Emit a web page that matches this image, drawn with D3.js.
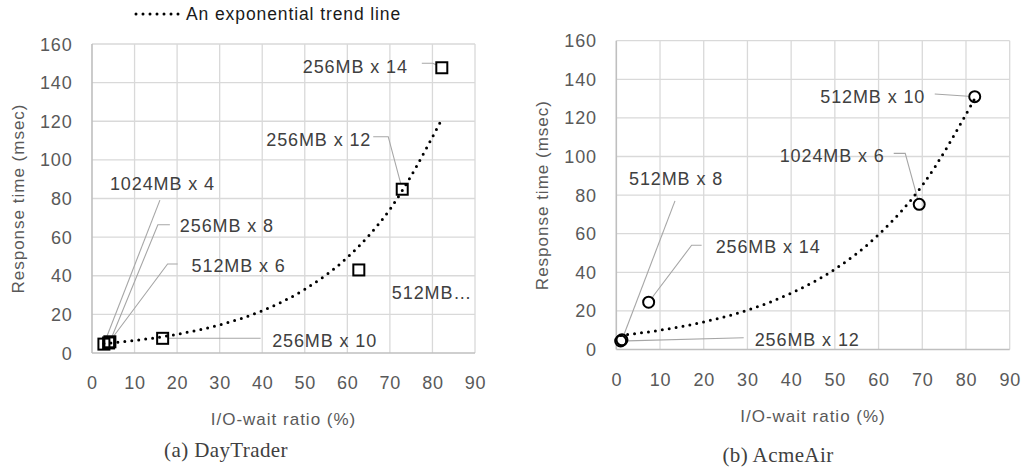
<!DOCTYPE html>
<html>
<head>
<meta charset="utf-8">
<script src="https://cdn.jsdelivr.net/npm/d3@7"></script>
<style>
    body { margin: 0; background: #fff; }
    svg { display: block; font-family: "Liberation Sans", Arial, sans-serif; }
    .tick-label { fill: #595959; font-size: 18px; letter-spacing: 0.8px; }
    .axis-title { fill: #595959; font-size: 17px; letter-spacing: 1px; }
    .data-label { fill: #404040; font-size: 18px; letter-spacing: 0.9px; }
    .caption { fill: #404040; font-family: "Liberation Serif", "Times New Roman", serif; font-size: 21px; letter-spacing: 0.4px; }
</style>
</head>
<body>
<svg id="chart" width="1024" height="472"></svg>
<script>
// Response time vs I/O-wait ratio, two benchmarks side by side

// ticks shared by both panels
const xTicks = [0, 10, 20, 30, 40, 50, 60, 70, 80, 90];
const yTicks = [0, 20, 40, 60, 80, 100, 120, 140, 160];

// (a) DayTrader
const dtNames = ['1024MB x 4', '512MB x 6', '256MB x 8', '256MB x 10', '512MB…', '256MB x 12', '256MB x 14'];
const dtIoWait = [2.8, 3.9, 4.2, 16.6, 62.7, 72.9, 82.2];
const dtResponse = [4.6, 5.2, 5.8, 7.6, 43.0, 84.8, 147.7];
// exponential trend line
const dtTrendX = [2.8, 10, 20, 30, 40, 50, 60, 70, 82.2];
const dtTrendY = [4.9, 6.5, 9.7, 14.6, 21.9, 33.0, 49.5, 74.4, 121];

// (b) AcmeAir
const aaNames = ['256MB x 12', '512MB x 8', '256MB x 14', '1024MB x 6', '512MB x 10'];
const aaIoWait = [1.0, 1.3, 7.4, 69.3, 82.0];
const aaResponse = [4.4, 5.0, 24.5, 75.2, 131.0];
const aaTrendX = [1.0, 10, 20, 30, 40, 50, 60, 70, 82.0];
const aaTrendY = [7.3, 10.0, 14.3, 20.4, 29.2, 41.6, 59.5, 85.0, 130];

// label placement: text start and leader elbows, pixel offsets from the marker
const dtLabelPos = [
    { tx: 6, ty: -154.5, leader: [[56, -144]] },
    { tx: 83, ty: -70.5, leader: [[59, -79], [69, -79]] },
    { tx: 70, ty: -109.5, leader: [[48, -117], [60, -117]] },
    { tx: 109.5, ty: 8.5, leader: [[98, 0]] },
    { tx: 33, ty: 29.5, leader: [] },
    { tx: -136, ty: -43.5, leader: [[-14, -52.5], [-29, -52.5]] },
    { tx: -139, ty: 5.5, leader: [[-9, -4.5], [-20, -4.5]] }
];
const aaLabelPos = [
    { tx: 134, ty: 4.5, leader: [[123, -3.3]] },
    { tx: 7, ty: -154.5, leader: [[53, -139]] },
    { tx: 67, ty: -49, leader: [[43, -57], [53, -57]] },
    { tx: -139.5, ty: -42.5, leader: [[-14, -51], [-25.5, -51]] },
    { tx: -154.5, ty: 6.5, leader: [[-40, -2.7]] }
];

const panels = [
    {
        names: dtNames, xs: dtIoWait, ys: dtResponse, trendX: dtTrendX, trendY: dtTrendY,
        labels: dtLabelPos, marker: 'square',
        left: 92, right: 475, top: 44, bottom: 353,
        yTitleX: 18, caption: '(a) DayTrader', capX: 226, capY: 457
    },
    {
        names: aaNames, xs: aaIoWait, ys: aaResponse, trendX: aaTrendX, trendY: aaTrendY,
        labels: aaLabelPos, marker: 'circle',
        left: 616.3, right: 1009.7, top: 40.7, bottom: 349.5,
        yTitleX: 542, caption: '(b) AcmeAir', capX: 778, capY: 461.5
    }
];

const svg = d3.select('#chart');
const dotted = { width: 3, dash: '0,7' };

function drawPanel(p) {
    const g = svg.append('g');

    const x = d3.scaleLinear().domain([0, 90]).range([p.left, p.right]);
    const y = d3.scaleLinear().domain([0, 160]).range([p.bottom, p.top]);

    // gridlines
    g.selectAll('.vgrid')
        .data(xTicks.slice(1))
        .join('line')
        .attr('x1', d => x(d)).attr('x2', d => x(d))
        .attr('y1', p.top).attr('y2', p.bottom)
        .attr('stroke', '#d9d9d9').attr('stroke-width', 1.3);

    g.selectAll('.hgrid')
        .data(yTicks.slice(1))
        .join('line')
        .attr('x1', p.left).attr('x2', p.right)
        .attr('y1', d => y(d)).attr('y2', d => y(d))
        .attr('stroke', '#d9d9d9').attr('stroke-width', 1.3);

    // axis lines
    g.append('line')
        .attr('x1', p.left).attr('x2', p.right)
        .attr('y1', p.bottom).attr('y2', p.bottom)
        .attr('stroke', '#bfbfbf').attr('stroke-width', 1.6);
    g.append('line')
        .attr('x1', p.left).attr('x2', p.left)
        .attr('y1', p.top).attr('y2', p.bottom)
        .attr('stroke', '#bfbfbf').attr('stroke-width', 1.6);

    // tick labels
    g.selectAll('.xtick')
        .data(xTicks)
        .join('text')
        .attr('class', 'tick-label')
        .attr('x', d => x(d) + 0.5)
        .attr('y', p.bottom + 36)
        .attr('text-anchor', 'middle')
        .text(d => d);

    g.selectAll('.ytick')
        .data(yTicks)
        .join('text')
        .attr('class', 'tick-label')
        .attr('x', p.left - 19.5)
        .attr('y', d => y(d) + 6.5)
        .attr('text-anchor', 'end')
        .text(d => d);

    // axis titles
    g.append('text')
        .attr('class', 'axis-title')
        .attr('x', (p.left + p.right) / 2)
        .attr('y', p.bottom + 72)
        .attr('text-anchor', 'middle')
        .text('I/O-wait ratio (%)');

    g.append('text')
        .attr('class', 'axis-title')
        .attr('transform', `translate(${p.yTitleX + 6},${(p.top + p.bottom) / 2}) rotate(-90)`)
        .attr('text-anchor', 'middle')
        .text('Response time (msec)');

    const pts = p.xs.map((v, i) => ({ name: p.names[i], px: x(v), py: y(p.ys[i]), pos: p.labels[i] }));

    // leader lines, trimmed at the marker edge
    pts.forEach(d => {
        if (!d.pos.leader.length) return;
        const elbows = d.pos.leader.map(([dx, dy]) => [d.px + dx, d.py + dy]);
        const [ex, ey] = elbows[0];
        const len = Math.hypot(ex - d.px, ey - d.py);
        const start = [d.px + (ex - d.px) * 6.5 / len, d.py + (ey - d.py) * 6.5 / len];
        g.append('path')
            .attr('d', d3.line()([start, ...elbows]))
            .attr('fill', 'none')
            .attr('stroke', '#a6a6a6')
            .attr('stroke-width', 1.1);
    });

    // markers
    if (p.marker === 'square') {
        g.selectAll('.pt')
            .data(pts)
            .join('rect')
            .attr('x', d => d.px - 5.5).attr('y', d => d.py - 5.5)
            .attr('width', 11).attr('height', 11)
            .attr('fill', 'none').attr('stroke', '#000').attr('stroke-width', 2);
    } else {
        g.selectAll('.pt')
            .data(pts)
            .join('circle')
            .attr('cx', d => d.px).attr('cy', d => d.py)
            .attr('r', 5.5)
            .attr('fill', 'none').attr('stroke', '#000').attr('stroke-width', 2);
    }

    // trend line on top, as in the source
    const trend = p.trendX.map((v, i) => [x(v), y(p.trendY[i])]);
    g.append('path')
        .attr('d', d3.line().curve(d3.curveMonotoneX)(trend))
        .attr('fill', 'none')
        .attr('stroke', '#000')
        .attr('stroke-width', dotted.width)
        .attr('stroke-linecap', 'round')
        .attr('stroke-dasharray', dotted.dash);

    // data labels
    g.selectAll('.lbl')
        .data(pts)
        .join('text')
        .attr('class', 'data-label')
        .attr('x', d => d.px + d.pos.tx)
        .attr('y', d => d.py + d.pos.ty)
        .text(d => d.name);

    // caption
    g.append('text')
        .attr('class', 'caption')
        .attr('x', p.capX)
        .attr('y', p.capY)
        .attr('text-anchor', 'middle')
        .text(p.caption);
}

panels.forEach(drawPanel);

// legend (left panel only)
const legend = svg.append('g');
legend.append('line')
    .attr('x1', 136).attr('x2', 179)
    .attr('y1', 14).attr('y2', 14)
    .attr('stroke', '#000')
    .attr('stroke-width', dotted.width)
    .attr('stroke-linecap', 'round')
    .attr('stroke-dasharray', dotted.dash);
legend.append('text')
    .attr('x', 186).attr('y', 20)
    .attr('fill', '#1a1a1a')
    .attr('font-size', '17.5px')
    .attr('letter-spacing', '0.9px')
    .text('An exponential trend line');
</script>
</body>
</html>
